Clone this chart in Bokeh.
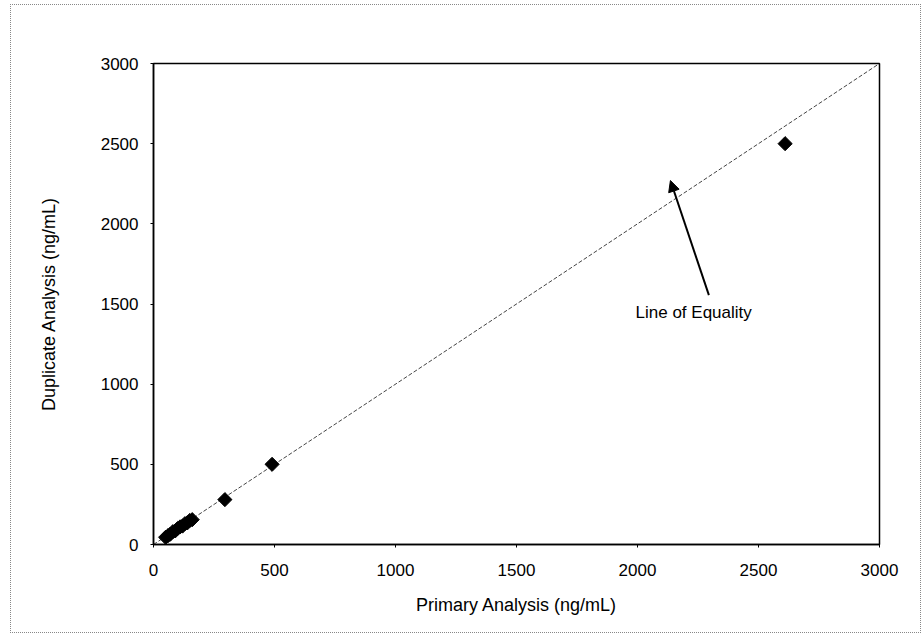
import math
from bokeh.plotting import figure
from bokeh.models import Range1d, Arrow, NormalHead, Label, FixedTicker
from bokeh.embed import file_html
from bokeh.resources import INLINE

primary = [50, 60, 70, 80, 90, 100, 110, 120, 130, 140, 150, 160, 295, 490, 2610]
duplicate = [45, 55, 65, 80, 85, 100, 110, 115, 130, 135, 150, 155, 280, 500, 2500]
equality_x = [0, 3000]
equality_y = [0, 3000]
ticks = [0, 500, 1000, 1500, 2000, 2500, 3000]
x_label = "Primary Analysis (ng/mL)"
y_label = "Duplicate Analysis (ng/mL)"
note = "Line of Equality"

FONT = "Liberation Sans"

p = figure(width=911, height=629, output_backend="svg", toolbar_location=None,
           x_range=Range1d(0, 3000), y_range=Range1d(0, 3000),
           min_border_left=142, min_border_right=43, min_border_top=58, min_border_bottom=90,
           margin=(4, 3, 2, 10), styles={"border": "1px dotted #888888"})
p.background_fill_color = "white"
p.border_fill_color = "white"
p.outline_line_color = "black"
p.outline_line_width = 1.5
p.xgrid.visible = False
p.ygrid.visible = False

for ax in (p.xaxis[0], p.yaxis[0]):
    ax.ticker = FixedTicker(ticks=ticks)
    ax.major_tick_in = 0
    ax.major_tick_out = 3
    ax.minor_tick_line_color = None
    ax.axis_line_color = "black"
    ax.axis_line_width = 1.5
    ax.major_label_text_font = FONT
    ax.major_label_text_font_size = "17px"
    ax.major_label_text_color = "black"
    ax.axis_label_text_font = FONT
    ax.axis_label_text_font_size = "18px"
    ax.axis_label_text_font_style = "normal"
    ax.axis_label_text_color = "black"

p.xaxis.axis_label = x_label
p.yaxis.axis_label = y_label
p.xaxis.major_label_standoff = 16
p.yaxis.major_label_standoff = 12
p.xaxis.axis_label_standoff = 16
p.yaxis.axis_label_standoff = 39

p.line(equality_x, equality_y, line_color="#444444", line_width=1, line_dash="4 2")
p.scatter(primary, duplicate, marker="square", angle=math.pi / 4, size=10,
          fill_color="black", line_color="black")

p.add_layout(Arrow(end=NormalHead(size=11, fill_color="black", line_color="black"),
                   x_start=2295, y_start=1555, x_end=2136, y_end=2270,
                   line_color="black", line_width=2))
p.add_layout(Label(x=2232, y=1448, text=note, text_align="center", text_baseline="middle",
                   text_font=FONT, text_font_size="17px", text_color="black"))

open("out.html", "w").write(file_html(p, INLINE))
